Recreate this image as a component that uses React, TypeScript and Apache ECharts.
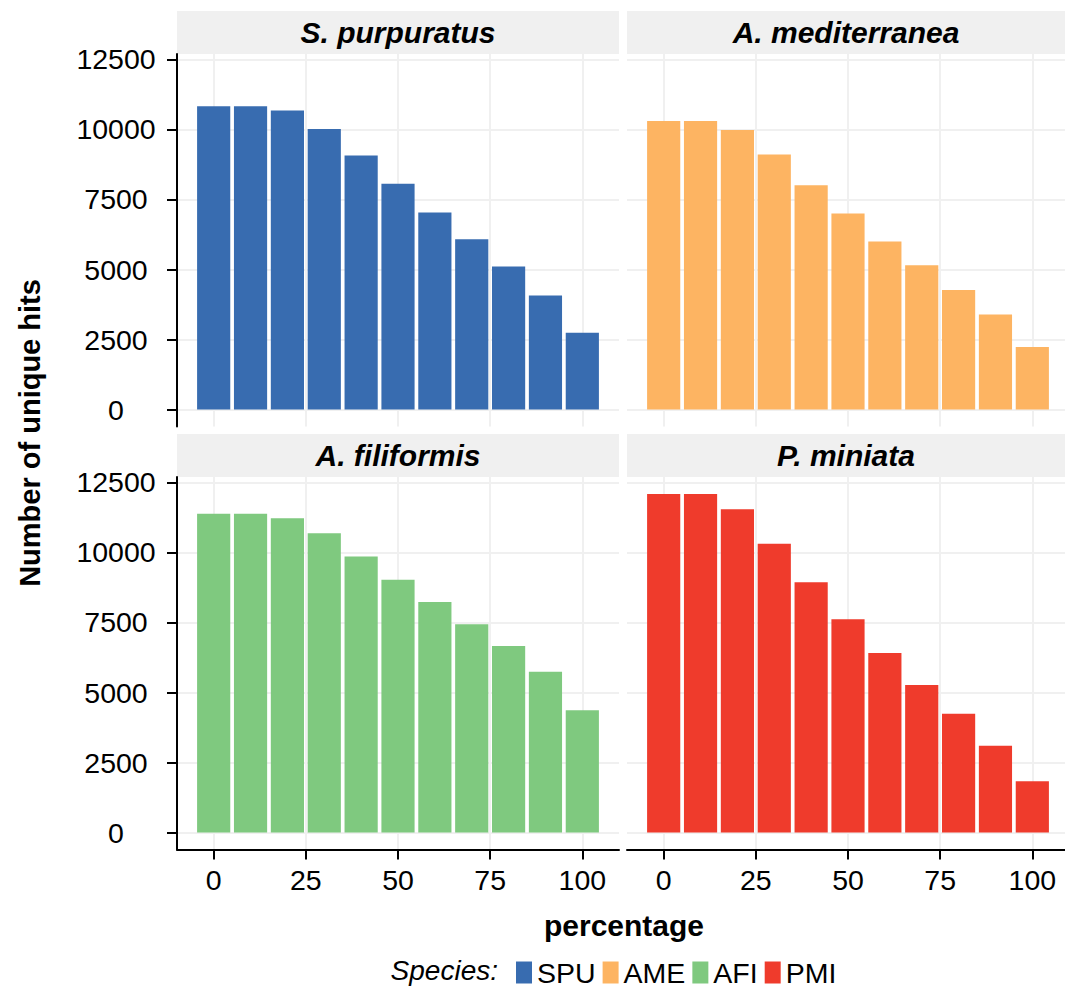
import React, { useEffect, useRef } from "react";
import * as echarts from "echarts";

// Percentage thresholds (x) and number of unique hits per species (y)
const percentages = [0, 10, 20, 30, 40, 50, 60, 70, 80, 90, 100];
const spuHits = [10830, 10830, 10680, 10020, 9070, 8060, 7040, 6080, 5110, 4070, 2740];
const ameHits = [10300, 10300, 9980, 9110, 8010, 7000, 6000, 5150, 4270, 3390, 2230];
const afiHits = [11380, 11380, 11220, 10690, 9860, 9030, 8230, 7440, 6660, 5740, 4370];
const pmiHits = [12090, 12090, 11540, 10310, 8940, 7620, 6410, 5270, 4240, 3100, 1830];

const speciesCodes = ["SPU", "AME", "AFI", "PMI"];
const speciesNames = ["S. purpuratus", "A. mediterranea", "A. filiformis", "P. miniata"];
const speciesColors = ["#386cb0", "#fdb462", "#7fc97f", "#ef3b2c"];
const hitsBySpecies = [spuHits, ameHits, afiHits, pmiHits];

const xTicks = [0, 25, 50, 75, 100];
const yTicks = [0, 2500, 5000, 7500, 10000, 12500];

const xTitle = "percentage";
const yTitle = "Number of unique hits";
const legendTitle = "Species:";

// Layout of the 2x2 facet grid (pixels)
const PANEL_LEFT = [177, 627];
const PANEL_TOP = [54, 477];
const PANEL_W = 442;
const PANEL_H = 372.5;
const STRIP_H = 43;

const FONT = "'Liberation Sans', Arial, Helvetica, sans-serif";
const GRID_COLOR = "#f0f0f0";

// Bars are 90% of the 10-point spacing; scales are expanded by 5% on each side
const BAR_SPAN = 9;
const xLo = percentages[0] - BAR_SPAN / 2;
const xHi = percentages[percentages.length - 1] + BAR_SPAN / 2;
const xMin = xLo - 0.05 * (xHi - xLo);
const xMax = xHi + 0.05 * (xHi - xLo);
const yTop = Math.max(...hitsBySpecies.flat());
const yMin = 0 - 0.05 * yTop;
const yMax = yTop + 0.05 * yTop;

const plain = (v: number) => String(v);

export default function App() {
  const ref = useRef<HTMLDivElement>(null);

  useEffect(() => {
    if (!ref.current) return;
    const chart = echarts.init(ref.current, undefined, { renderer: "svg" });

    const grids: any[] = [];
    const xAxes: any[] = [];
    const yAxes: any[] = [];
    const series: any[] = [];
    const graphics: any[] = [];
    const barPx = (PANEL_W * BAR_SPAN) / (xMax - xMin);

    speciesCodes.forEach((code, i) => {
      const col = i % 2;
      const row = Math.floor(i / 2);
      const left = PANEL_LEFT[col];
      const top = PANEL_TOP[row];
      grids.push({
        left,
        top,
        width: PANEL_W,
        height: PANEL_H,
        containLabel: false,
        outerBoundsMode: "none",
      });
      xAxes.push({
        type: "value",
        gridIndex: i,
        min: xMin,
        max: xMax,
        axisLine: { show: row === 1, onZero: false, lineStyle: { color: "#000", width: 2 } },
        axisTick: {
          show: row === 1,
          length: 10,
          customValues: xTicks,
          lineStyle: { color: "#000", width: 2 },
        },
        axisLabel: {
          show: row === 1,
          customValues: xTicks,
          formatter: plain,
          margin: 16,
          color: "#000",
          fontSize: 28.5,
          fontFamily: FONT,
        },
        splitLine: { show: true, lineStyle: { color: GRID_COLOR, width: 2 } },
      });
      yAxes.push({
        type: "value",
        gridIndex: i,
        min: yMin,
        max: yMax,
        axisLine: { show: col === 0, onZero: false, lineStyle: { color: "#000", width: 2 } },
        axisTick: {
          show: col === 0,
          length: 10,
          customValues: yTicks,
          lineStyle: { color: "#000", width: 2 },
        },
        axisLabel: {
          show: col === 0,
          customValues: yTicks,
          formatter: plain,
          align: "center",
          margin: 61,
          color: "#000",
          fontSize: 28.5,
          fontFamily: FONT,
        },
        splitLine: { show: true, lineStyle: { color: GRID_COLOR, width: 2 } },
      });
      series.push({
        type: "bar",
        name: code,
        xAxisIndex: i,
        yAxisIndex: i,
        barWidth: barPx,
        itemStyle: { color: speciesColors[i] },
        data: percentages.map((p, j) => [p, hitsBySpecies[i][j]]),
      });

      // Facet strip with species name
      const stripTop = top - STRIP_H;
      graphics.push({
        type: "rect",
        shape: { x: left, y: stripTop, width: PANEL_W, height: STRIP_H },
        style: { fill: GRID_COLOR },
        silent: true,
      });
      graphics.push({
        type: "text",
        x: left + PANEL_W / 2 - (col === 1 ? 2 : 0),
        y: stripTop + STRIP_H / 2,
        style: {
          text: speciesNames[i],
          fill: "#000",
          font: `italic bold 30px ${FONT}`,
          align: "center",
          verticalAlign: "middle",
        },
        silent: true,
      });
    });

    // Axis titles
    graphics.push({
      type: "text",
      x: 624,
      y: 925,
      style: {
        text: xTitle,
        fill: "#000",
        font: `bold 30px ${FONT}`,
        align: "center",
        verticalAlign: "middle",
      },
    });
    graphics.push({
      type: "text",
      x: 30,
      y: 433,
      rotation: Math.PI / 2,
      style: {
        text: yTitle,
        fill: "#000",
        font: `bold 29px ${FONT}`,
        align: "center",
        verticalAlign: "middle",
      },
    });
    // Legend title
    graphics.push({
      type: "text",
      x: 498,
      y: 970,
      style: {
        text: legendTitle,
        fill: "#000",
        font: `italic 28px ${FONT}`,
        align: "right",
        verticalAlign: "middle",
      },
    });

    chart.setOption({
      animation: false,
      backgroundColor: "#ffffff",
      grid: grids,
      xAxis: xAxes,
      yAxis: yAxes,
      series,
      legend: {
        data: speciesCodes,
        left: 516,
        top: 958,
        padding: 0,
        itemWidth: 16,
        itemHeight: 22,
        itemGap: 7,
        icon: "rect",
        orient: "horizontal",
        textStyle: {
          color: "#000",
          fontSize: 28.5,
          lineHeight: 22,
          fontFamily: FONT,
          padding: 0,
        },
        selectedMode: false,
      },
      graphic: graphics,
    });

    return () => chart.dispose();
  }, []);

  return (
    <div
      ref={ref}
      style={{ position: "absolute", left: 0, top: 0, width: 1065, height: 987 }}
    />
  );
}
